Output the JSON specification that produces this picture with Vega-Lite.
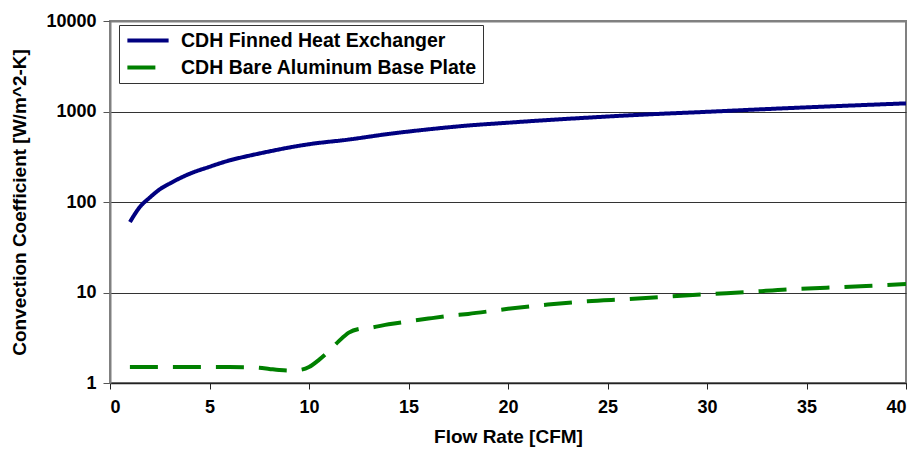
{
  "$schema": "https://vega.github.io/schema/vega-lite/v6.json",
  "autosize": "none",
  "width": 796,
  "height": 362,
  "padding": {"left": 110, "top": 21, "right": 9, "bottom": 66},
  "background": "white",
  "config": {
    "font": "Liberation Sans",
    "view": {"stroke": "#808080", "strokeWidth": 2}
  },
  "data": {
    "values": [
      {"cfm": 1, "h": 60, "series": "CDH Finned Heat Exchanger"},
      {"cfm": 1.5, "h": 88, "series": "CDH Finned Heat Exchanger"},
      {"cfm": 2, "h": 112, "series": "CDH Finned Heat Exchanger"},
      {"cfm": 2.5, "h": 138, "series": "CDH Finned Heat Exchanger"},
      {"cfm": 3, "h": 160, "series": "CDH Finned Heat Exchanger"},
      {"cfm": 4, "h": 205, "series": "CDH Finned Heat Exchanger"},
      {"cfm": 5, "h": 245, "series": "CDH Finned Heat Exchanger"},
      {"cfm": 6, "h": 288, "series": "CDH Finned Heat Exchanger"},
      {"cfm": 7, "h": 325, "series": "CDH Finned Heat Exchanger"},
      {"cfm": 8, "h": 362, "series": "CDH Finned Heat Exchanger"},
      {"cfm": 9, "h": 400, "series": "CDH Finned Heat Exchanger"},
      {"cfm": 10, "h": 435, "series": "CDH Finned Heat Exchanger"},
      {"cfm": 12, "h": 490, "series": "CDH Finned Heat Exchanger"},
      {"cfm": 14, "h": 565, "series": "CDH Finned Heat Exchanger"},
      {"cfm": 16, "h": 635, "series": "CDH Finned Heat Exchanger"},
      {"cfm": 18, "h": 700, "series": "CDH Finned Heat Exchanger"},
      {"cfm": 20, "h": 752, "series": "CDH Finned Heat Exchanger"},
      {"cfm": 22, "h": 805, "series": "CDH Finned Heat Exchanger"},
      {"cfm": 24, "h": 855, "series": "CDH Finned Heat Exchanger"},
      {"cfm": 26, "h": 905, "series": "CDH Finned Heat Exchanger"},
      {"cfm": 28, "h": 950, "series": "CDH Finned Heat Exchanger"},
      {"cfm": 30, "h": 992, "series": "CDH Finned Heat Exchanger"},
      {"cfm": 32, "h": 1040, "series": "CDH Finned Heat Exchanger"},
      {"cfm": 34, "h": 1088, "series": "CDH Finned Heat Exchanger"},
      {"cfm": 36, "h": 1135, "series": "CDH Finned Heat Exchanger"},
      {"cfm": 38, "h": 1182, "series": "CDH Finned Heat Exchanger"},
      {"cfm": 40, "h": 1230, "series": "CDH Finned Heat Exchanger"},
      {"cfm": 1, "h": 1.5, "series": "CDH Bare Aluminum Base Plate"},
      {"cfm": 2, "h": 1.5, "series": "CDH Bare Aluminum Base Plate"},
      {"cfm": 3, "h": 1.5, "series": "CDH Bare Aluminum Base Plate"},
      {"cfm": 4, "h": 1.5, "series": "CDH Bare Aluminum Base Plate"},
      {"cfm": 5, "h": 1.5, "series": "CDH Bare Aluminum Base Plate"},
      {"cfm": 6, "h": 1.5, "series": "CDH Bare Aluminum Base Plate"},
      {"cfm": 7, "h": 1.49, "series": "CDH Bare Aluminum Base Plate"},
      {"cfm": 7.5, "h": 1.47, "series": "CDH Bare Aluminum Base Plate"},
      {"cfm": 8, "h": 1.43, "series": "CDH Bare Aluminum Base Plate"},
      {"cfm": 8.5, "h": 1.39, "series": "CDH Bare Aluminum Base Plate"},
      {"cfm": 9, "h": 1.37, "series": "CDH Bare Aluminum Base Plate"},
      {"cfm": 9.5, "h": 1.39, "series": "CDH Bare Aluminum Base Plate"},
      {"cfm": 10, "h": 1.5, "series": "CDH Bare Aluminum Base Plate"},
      {"cfm": 10.5, "h": 1.8, "series": "CDH Bare Aluminum Base Plate"},
      {"cfm": 11, "h": 2.25, "series": "CDH Bare Aluminum Base Plate"},
      {"cfm": 11.5, "h": 2.9, "series": "CDH Bare Aluminum Base Plate"},
      {"cfm": 12, "h": 3.6, "series": "CDH Bare Aluminum Base Plate"},
      {"cfm": 12.5, "h": 3.95, "series": "CDH Bare Aluminum Base Plate"},
      {"cfm": 13, "h": 4.05, "series": "CDH Bare Aluminum Base Plate"},
      {"cfm": 14, "h": 4.45, "series": "CDH Bare Aluminum Base Plate"},
      {"cfm": 15, "h": 4.8, "series": "CDH Bare Aluminum Base Plate"},
      {"cfm": 16, "h": 5.15, "series": "CDH Bare Aluminum Base Plate"},
      {"cfm": 17, "h": 5.5, "series": "CDH Bare Aluminum Base Plate"},
      {"cfm": 18, "h": 5.8, "series": "CDH Bare Aluminum Base Plate"},
      {"cfm": 20, "h": 6.6, "series": "CDH Bare Aluminum Base Plate"},
      {"cfm": 22, "h": 7.35, "series": "CDH Bare Aluminum Base Plate"},
      {"cfm": 24, "h": 8.0, "series": "CDH Bare Aluminum Base Plate"},
      {"cfm": 26, "h": 8.45, "series": "CDH Bare Aluminum Base Plate"},
      {"cfm": 28, "h": 9.0, "series": "CDH Bare Aluminum Base Plate"},
      {"cfm": 30, "h": 9.6, "series": "CDH Bare Aluminum Base Plate"},
      {"cfm": 32, "h": 10.1, "series": "CDH Bare Aluminum Base Plate"},
      {"cfm": 34, "h": 10.8, "series": "CDH Bare Aluminum Base Plate"},
      {"cfm": 36, "h": 11.3, "series": "CDH Bare Aluminum Base Plate"},
      {"cfm": 38, "h": 11.8, "series": "CDH Bare Aluminum Base Plate"},
      {"cfm": 40, "h": 12.4, "series": "CDH Bare Aluminum Base Plate"}
    ]
  },
  "mark": {"type": "line", "strokeWidth": 4, "interpolate": "monotone", "clip": true},
  "encoding": {
    "x": {
      "field": "cfm",
      "type": "quantitative",
      "scale": {"domain": [0, 40], "nice": false},
      "axis": {
        "title": "Flow Rate [CFM]",
        "values": [0, 5, 10, 15, 20, 25, 30, 35, 40],
        "grid": false,
        "domainColor": "#222",
        "domainWidth": 1.5,
        "tickColor": "#222",
        "tickSize": 6,
        "labelFont": "Liberation Sans",
        "labelFontWeight": "bold",
        "labelFontSize": 18,
        "labelColor": "black",
        "labelPadding": 9,
        "titleFont": "Liberation Sans",
        "titleFontWeight": "bold",
        "titleFontSize": 19,
        "titleColor": "black",
        "titlePadding": 11
      }
    },
    "y": {
      "field": "h",
      "type": "quantitative",
      "scale": {"type": "log", "domain": [1, 10000], "nice": false},
      "axis": {
        "title": "Convection Coefficient [W/m^2-K]",
        "values": [1, 10, 100, 1000, 10000],
        "format": "d",
        "grid": true,
        "gridColor": {"condition": {"test": "datum.value == 10000", "value": "#808080"}, "value": "#333333"},
        "gridWidth": {"condition": {"test": "datum.value == 10000", "value": 2}, "value": 1},
        "domainColor": "#808080",
        "domainWidth": 2,
        "tickColor": "#555555",
        "tickSize": 7,
        "labelFont": "Liberation Sans",
        "labelFontWeight": "bold",
        "labelFontSize": 18,
        "labelColor": "black",
        "labelPadding": 7,
        "titleFont": "Liberation Sans",
        "titleFontWeight": "bold",
        "titleFontSize": 19,
        "titleColor": "black",
        "titlePadding": 16
      }
    },
    "color": {
      "field": "series",
      "type": "nominal",
      "scale": {
        "domain": ["CDH Finned Heat Exchanger", "CDH Bare Aluminum Base Plate"],
        "range": ["#000080", "#008000"]
      },
      "legend": {
        "title": null,
        "orient": "none",
        "legendX": 9,
        "legendY": 4,
        "strokeColor": "#333333",
        "fillColor": "white",
        "padding": 6,
        "symbolType": "stroke",
        "symbolSize": 1700,
        "symbolStrokeWidth": 4,
        "clipHeight": 19,
        "labelFont": "Liberation Sans",
        "labelFontWeight": "bold",
        "labelFontSize": 19.5,
        "labelColor": "black",
        "labelOffset": 10,
        "rowPadding": 7,
        "labelLimit": 400
      }
    },
    "strokeDash": {
      "field": "series",
      "type": "nominal",
      "scale": {
        "domain": ["CDH Finned Heat Exchanger", "CDH Bare Aluminum Base Plate"],
        "range": [[1, 0], [28, 15]]
      },
      "legend": null
    }
  }
}
